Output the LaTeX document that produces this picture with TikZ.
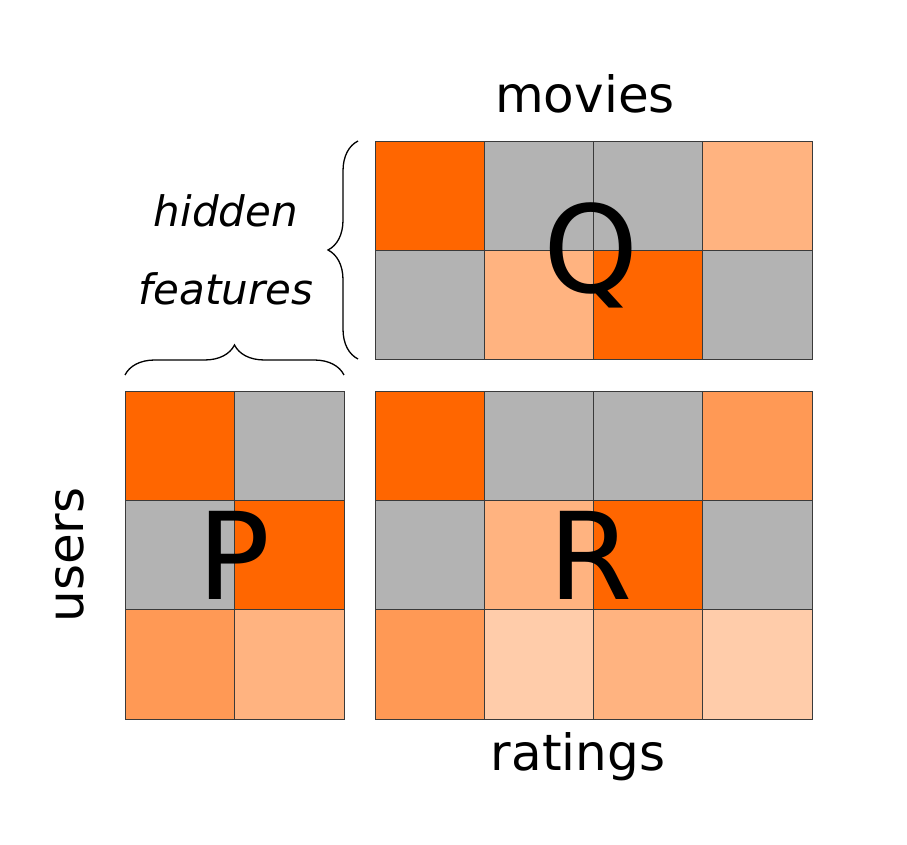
\documentclass[tikz,border=0pt]{standalone}
\usepackage{fontspec}
\setmainfont{DejaVu Sans}
\usetikzlibrary{decorations.pathreplacing}
\definecolor{dk}{HTML}{FF6600}
\definecolor{gy}{HTML}{B3B3B3}
\definecolor{lt}{HTML}{FFB380}
\definecolor{md}{HTML}{FF9955}
\definecolor{vl}{HTML}{FFCCAA}
\definecolor{edge}{HTML}{3A3A3A}
\tikzset{cell/.style={draw=edge,line width=0.8pt},
  big/.style={font=\fontsize{121}{121}\selectfont,inner sep=0pt},
  lab/.style={font=\fontsize{50}{50}\selectfont,inner sep=0pt},
  hid/.style={font=\fontsize{42}{42}\selectfont\itshape,inner sep=0pt},
  bracestyle/.style={draw,line width=1.3pt,decorate,decoration={brace,amplitude=30pt}}}
\begin{document}
\begin{tikzpicture}[x=1pt,y=1pt]
\useasboundingbox (0,0) rectangle (907,845);
\fill[white] (0,0) rectangle (907,845);
\def\cw{109.25}
\def\ch{109.33}
% Q matrix
\foreach \c/\r/\col in {0/0/dk,1/0/gy,2/0/gy,3/0/lt,0/1/gy,1/1/lt,2/1/dk,3/1/gy}{
  \fill[\col] ({375+\c*\cw},{704-\r*109}) rectangle ({375+(\c+1)*\cw},{704-(\r+1)*109});
}
\foreach \c/\r in {0/0,1/0,2/0,3/0,0/1,1/1,2/1,3/1}{
  \draw[cell] ({375+\c*\cw},{704-\r*109}) rectangle ({375+(\c+1)*\cw},{704-(\r+1)*109});
}
% P matrix
\foreach \c/\r/\col in {0/0/dk,1/0/gy,0/1/gy,1/1/dk,0/2/md,1/2/lt}{
  \fill[\col] ({125+\c*109.5},{454-\r*\ch}) rectangle ({125+(\c+1)*109.5},{454-(\r+1)*\ch});
}
\foreach \c/\r in {0/0,1/0,0/1,1/1,0/2,1/2}{
  \draw[cell] ({125+\c*109.5},{454-\r*\ch}) rectangle ({125+(\c+1)*109.5},{454-(\r+1)*\ch});
}
% R matrix
\foreach \c/\r/\col in {0/0/dk,1/0/gy,2/0/gy,3/0/md,0/1/gy,1/1/lt,2/1/dk,3/1/gy,0/2/md,1/2/vl,2/2/lt,3/2/vl}{
  \fill[\col] ({375+\c*\cw},{454-\r*\ch}) rectangle ({375+(\c+1)*\cw},{454-(\r+1)*\ch});
}
\foreach \c/\r in {0/0,1/0,2/0,3/0,0/1,1/1,2/1,3/1,0/2,1/2,2/2,3/2}{
  \draw[cell] ({375+\c*\cw},{454-\r*\ch}) rectangle ({375+(\c+1)*\cw},{454-(\r+1)*\ch});
}
% letters
\node[big] (Q) at (591,590) {Q};
\node[big] (P) at (234,290) {P};
\node[big] (R) at (591,290) {R};
% labels
\node[lab] (movies) at (585,751) {movies};
\node[lab] (ratings) at (578,88) {ratings};
\node[lab,rotate=90] (users) at (70,290) {users};
\node[hid] (hidden) at (226,634) {hidden};
\node[hid] (features) at (226,556) {features};
% braces
\coordinate (vb1) at (358,486);
\coordinate (vb2) at (358,704);
\coordinate (hb1) at (125,470);
\coordinate (hb2) at (344,470);
\draw[bracestyle] (vb1) -- (vb2);
\draw[bracestyle] (hb1) -- (hb2);
\end{tikzpicture}
\end{document}
